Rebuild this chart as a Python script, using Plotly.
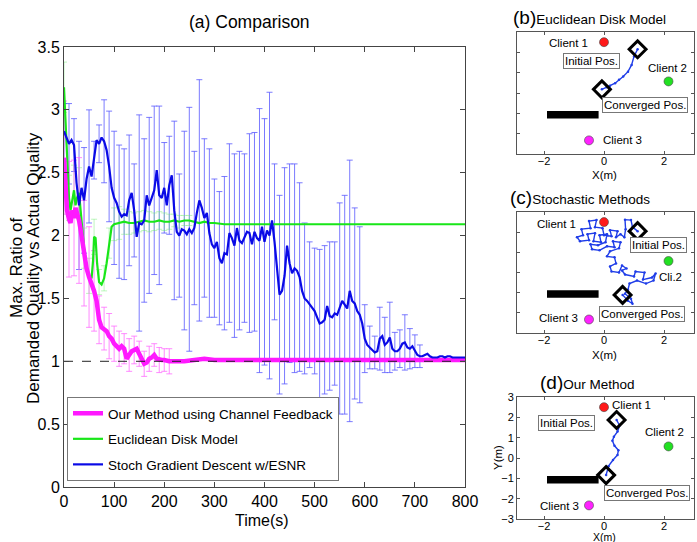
import plotly.graph_objects as go

# ---------------- (a) Comparison : time series ----------------
# Stochastic gradient descent w/ESNR, sampled every 5 s
blue_t = list(range(0, 805, 5))
blue_y = [
    2.83, 2.78, 2.73, 2.76, 2.72, 2.42, 2.24, 2.38, 2.28, 2.45, 2.55, 2.47, 2.60, 2.76, 2.73, 2.78, 2.75, 2.68, 2.55, 2.38,
    2.30, 2.26, 2.19, 2.15, 2.17, 2.16, 2.28, 2.34, 2.20, 1.99, 2.10, 2.09, 2.12, 2.32, 2.24, 2.30, 2.36, 2.52, 2.32, 2.30,
    2.38, 2.24, 2.40, 2.48, 2.20, 2.03, 2.00, 2.05, 2.04, 2.01, 2.05, 2.02, 2.06, 2.18, 2.28, 2.22, 2.14, 2.18, 2.02, 1.93,
    1.90, 1.95, 1.82, 1.78, 1.86, 1.85, 2.02, 1.98, 1.92, 2.06, 1.96, 1.94, 1.98, 2.03, 2.02, 1.93, 2.03, 1.98, 1.96, 2.07,
    1.95, 2.04, 2.00, 2.12, 1.95, 1.75, 1.53, 1.56, 1.68, 1.92, 1.78, 1.70, 1.74, 1.72, 1.67, 1.56, 1.50, 1.48, 1.45, 1.43,
    1.40, 1.35, 1.30, 1.31, 1.33, 1.44, 1.36, 1.35, 1.38, 1.37, 1.42, 1.48, 1.45, 1.42, 1.56, 1.48, 1.46, 1.40, 1.37, 1.30,
    1.18, 1.13, 1.11, 1.09, 1.07, 1.08, 1.18, 1.20, 1.13, 1.15, 1.19, 1.10, 1.08, 1.08, 1.10, 1.14, 1.15, 1.11, 1.10, 1.12,
    1.08, 1.05, 1.04, 1.04, 1.05, 1.06, 1.04, 1.03, 1.03, 1.03, 1.04, 1.04, 1.03, 1.04, 1.04, 1.03, 1.03, 1.03, 1.03, 1.03,
    1.03,
]
# one std-dev half width every 10 s (t = 0 .. 710)
blue_err = [
    0.22, 0.32, 0.21, 0.51, 0.42, 0.45, 0.15, 0.15, 0.33, 0.44,
    0.53, 0.53, 0.52, 0.52, 0.37, 0.86, 0.65, 0.70, 0.67, 0.71,
    0.36, 0.39, 0.71, 0.49, 0.79, 0.97, 0.61, 0.96, 0.63, 0.67,
    0.55, 0.53, 0.61, 0.71, 0.73, 0.71, 0.67, 0.79, 0.79, 1.05,
    0.98, 1.14, 0.62, 0.79, 0.86, 0.79, 0.83, 0.75, 0.60, 0.50,
    0.50, 0.59, 0.59, 0.59, 0.57, 0.84, 0.87, 1.04, 0.76, 0.70,
    0.27, 0.17, 0.13, 0.25, 0.22, 0.28, 0.15, 0.15, 0.22, 0.16,
    0.13, 0.09,
]

# Euclidean disk model
green_t = [0, 3, 6, 10, 13, 16, 20, 23, 26, 30, 33, 36, 40, 45, 50, 55, 58, 60, 63, 66,
           70, 75, 80, 85, 90, 95, 100, 110, 120, 130, 140, 150, 160, 170, 180, 190, 200,
           210, 220, 230, 240, 250, 260, 270, 280, 290, 300, 320, 400, 500, 600, 700, 800]
green_y = [3.18, 2.90, 2.60, 2.30, 2.20, 2.28, 2.36, 2.24, 2.30, 2.34, 2.22, 2.05, 1.90, 1.76, 1.68, 1.66, 1.80, 1.99, 1.98, 1.78,
           1.63, 1.61, 1.66, 1.78, 1.94, 2.07, 2.09, 2.10, 2.11, 2.10, 2.10, 2.11, 2.12, 2.11, 2.11, 2.12, 2.11,
           2.11, 2.12, 2.11, 2.12, 2.12, 2.11, 2.10, 2.11, 2.10, 2.10, 2.09, 2.09, 2.09, 2.09, 2.09, 2.09]
green_err = [0.20, 0.18, 0.20, 0.20, 0.16, 0.14, 0.14, 0.10, 0.10, 0.12, 0.13, 0.13, 0.10,
             0.09, 0.08, 0.08, 0.08, 0.08, 0.07, 0.07, 0.07, 0.06, 0.05, 0.05, 0.04, 0.04]

# Our method using channel feedback
mag_t = [0, 3, 6, 10, 13, 16, 20, 23, 26, 30, 33, 36, 40, 45, 50, 55, 60, 65, 70, 75,
         80, 85, 90, 95, 100, 105, 110, 115, 120, 125, 130, 135, 140, 145, 150, 155, 160,
         165, 170, 175, 180, 185, 190, 195, 200, 205, 210, 220, 240, 260, 280, 300, 400,
         500, 600, 700, 800]
mag_y = [2.62, 2.42, 2.20, 2.13, 2.10, 2.20, 2.14, 2.22, 2.18, 2.12, 2.05, 1.97, 1.86, 1.74, 1.67, 1.62, 1.56, 1.48, 1.33, 1.27,
         1.26, 1.24, 1.20, 1.18, 1.14, 1.12, 1.10, 1.12, 1.10, 1.02, 1.05, 1.08, 1.09, 1.10, 1.06, 1.02, 0.98,
         0.99, 1.02, 1.03, 1.05, 1.02, 1.01, 1.01, 1.01, 1.00, 1.00, 1.00, 1.00, 1.01, 1.02, 1.01, 1.01,
         1.01, 1.01, 1.01, 1.01]
mag_err = [0.45, 0.46, 0.46, 0.50, 0.42, 0.40, 0.32, 0.19, 0.17, 0.18, 0.14,
           0.14, 0.12, 0.13, 0.11, 0.10, 0.10, 0.10, 0.09, 0.10, 0.09, 0.10]

ref_level = 1.0
time_range = [0, 800]

# ---------------- (b)-(d) floor maps ----------------
client_x = [0.0, 2.15, -0.5]
client_y = [2.5, 0.57, -2.33]
client_colors = ["#ff1a1a", "#22e022", "#ff22ff"]
obstacle_x = [-1.9, -0.18]
obstacle_y = [-1.25, -0.88]

# (b) Euclidean disk model trajectory
b_path_x = [1.12, 1.0, 0.92, 0.8, 0.64, 0.5, 0.37, 0.2, 0.09, -0.07]
b_path_y = [2.15, 1.8, 1.38, 1.05, 0.81, 0.65, 0.48, 0.36, 0.28, 0.18]

# (c) stochastic method trajectory
c_path_x = [1.12, 0.95, 0.9, 0.7, 0.72, 0.68, 0.55, 0.4, 0.45, 0.2, 0.25, 0.0, -0.05, -0.3, -0.25,
            -0.5, -0.45, -0.75, -0.7, -0.9, -0.8, -0.5, -0.55, -0.3, -0.35, -0.1, -0.15, 0.1, 0.05,
            -0.2, -0.45, -0.4, -0.15, 0.1, 0.35, 0.3, 0.55, 0.5, 0.2, 0.1, 0.35, 0.4, 0.2, 0.25, 0.5,
            0.6, 0.75, 0.6, 0.7, 1.0, 1.05, 1.35, 1.3, 1.6, 1.72, 1.65, 1.4, 1.1, 0.85, 0.8, 0.7, 0.9,
            0.95, 0.8, 0.62]
c_path_y = [2.05, 2.25, 2.6, 2.62, 2.15, 1.75, 1.9, 1.75, 2.05, 2.1, 1.8, 1.85, 2.2, 2.25, 2.6,
            2.55, 2.2, 2.15, 1.85, 1.75, 1.55, 1.6, 1.9, 1.95, 1.55, 1.5, 1.85, 1.9, 1.5,
            1.35, 1.4, 1.15, 1.1, 1.3, 1.25, 1.55, 1.5, 1.2, 1.05, 0.8, 0.75, 0.45, 0.3, 0.05, 0.0,
            0.35, 0.2, 0.1, -0.1, -0.2, 0.05, 0.0, -0.35, -0.25, -0.05, -0.4, -0.55, -0.4, -0.55, -0.85, -1.05, -1.3,
            -1.55, -1.4, -1.11]

# (d) our method trajectory
d_path_x = [0.42, 0.52, 0.45, 0.33, 0.28, 0.35, 0.48, 0.45, 0.3, 0.15, 0.07]
d_path_y = [1.87, 1.6, 1.3, 1.05, 0.85, 0.6, 0.38, 0.15, -0.1, -0.4, -0.84]

SANS = "Liberation Sans, Arial, sans-serif"
W, H = 697, 542


def px_x(p):
    return p / W


def px_y(p):
    return 1 - p / H


fig = go.Figure()


def bar_points(ts, ys, errs):
    pts = [(t, y) for t, y in zip(ts, ys) if t % 10 == 0][:len(errs)]
    return [p[0] for p in pts], [p[1] for p in pts]


# error bars first so the curves sit on top
for ts, ys, errs, col in [
    (blue_t, blue_y, blue_err, "rgba(90,90,255,0.8)"),
    (green_t, green_y, green_err, "rgba(110,235,110,0.45)"),
    (mag_t, mag_y, mag_err, "rgba(255,110,255,0.8)"),
]:
    bx, by = bar_points(ts, ys, errs)
    fig.add_trace(go.Scatter(
        x=bx, y=by, mode="markers", marker=dict(size=2, color="rgba(0,0,0,0)"),
        error_y=dict(type="data", array=errs, visible=True, color=col, thickness=1, width=3),
        showlegend=False, hoverinfo="skip", xaxis="x", yaxis="y"))

fig.add_trace(go.Scatter(x=green_t, y=green_y, mode="lines", name="Euclidean Disk Model",
                         line=dict(color="#19e619", width=2.2), legendrank=2, legendgroup="g2"))
fig.add_trace(go.Scatter(x=mag_t, y=mag_y, mode="lines", name="Our Method using Channel Feedback",
                         line=dict(color="#ff19ff", width=4.5), legendrank=1, legendgroup="g1"))
fig.add_trace(go.Scatter(x=blue_t, y=blue_y, mode="lines", name="Stoch Gradient Descent w/ESNR",
                         line=dict(color="#0a0ae6", width=2.2), legendrank=3, legendgroup="g3"))
fig.add_trace(go.Scatter(x=time_range, y=[ref_level, ref_level], mode="lines",
                         line=dict(color="#222", width=1, dash="dash"),
                         showlegend=False, hoverinfo="skip"))

# ---------------- floor map panels ----------------
panels = [
    ("2", b_path_x, b_path_y),
    ("3", c_path_x, c_path_y),
    ("4", d_path_x, d_path_y),
]
shapes = []
for ax, pxs, pys in panels:
    xa, ya = "x" + ax, "y" + ax
    fig.add_trace(go.Scatter(x=pxs, y=pys, mode="lines+markers", xaxis=xa, yaxis=ya,
                             line=dict(color="#1f3de8", width=1.4),
                             marker=dict(size=2.5, color="#1f3de8"),
                             showlegend=False, hoverinfo="skip"))
    fig.add_trace(go.Scatter(x=[pxs[0], pxs[-1]], y=[pys[0], pys[-1]], mode="markers",
                             xaxis=xa, yaxis=ya,
                             marker=dict(symbol="diamond-open", size=13, color="black",
                                         line=dict(width=3, color="black")),
                             showlegend=False, hoverinfo="skip"))
    fig.add_trace(go.Scatter(x=client_x, y=client_y, mode="markers", xaxis=xa, yaxis=ya,
                             marker=dict(size=9, color=client_colors,
                                         line=dict(width=0.6, color="#444")),
                             showlegend=False, hoverinfo="skip"))
    shapes.append(dict(type="rect", xref=xa, yref=ya, x0=obstacle_x[0], x1=obstacle_x[1],
                       y0=obstacle_y[0], y1=obstacle_y[1], fillcolor="black",
                       line=dict(width=0)))

annotations = []


def label(ax, x, y, text, boxed=False, xanchor="center"):
    d = dict(xref="x" + ax, yref="y" + ax, x=x, y=y, text=text, showarrow=False,
             xanchor=xanchor, font=dict(family=SANS, size=11.5, color="black"))
    if boxed:
        d.update(bordercolor="#777", borderwidth=1, borderpad=1, bgcolor="white")
    annotations.append(d)


label("2", -1.2, 2.46, "Client 1")
label("2", -0.41, 1.58, "Initial Pos.", boxed=True)
label("2", 2.12, 1.25, "Client 2")
label("2", 1.37, -0.6, "Converged Pos.", boxed=True)
label("2", -0.1, -2.31, "Client 3", xanchor="left")

label("3", -1.6, 2.4, "Client 1")
label("3", 1.81, 1.36, "Initial Pos.", boxed=True)
label("3", 2.2, -0.2, "Cli.2")
label("3", 1.26, -2.05, "Converged Pos.", boxed=True)
label("3", -1.52, -2.27, "Client 3")

label("4", 0.9, 2.62, "Client 1")
label("4", -1.24, 1.74, "Initial Pos.", boxed=True)
label("4", 2.01, 1.3, "Client 2")
label("4", 1.42, -1.74, "Converged Pos.", boxed=True)
label("4", -1.47, -2.35, "Client 3")


# titles and axis labels placed in paper space
def paper_text(x, y, text, size, angle=0, xanchor="center"):
    annotations.append(dict(xref="paper", yref="paper", x=px_x(x), y=px_y(y), text=text,
                            showarrow=False, xanchor=xanchor, yanchor="middle",
                            textangle=angle, font=dict(family=SANS, size=size, color="black")))


paper_text(249, 22, "(a) Comparison", 17.5)
paper_text(262, 520, "Time(s)", 16)
paper_text(16, 268, "Max. Ratio of", 17, angle=-90)
paper_text(33, 268, "Demanded Quality vs Actual Quality", 17, angle=-90)
paper_text(511, 17, "<span style='font-size:19px'>(b)</span>Euclidean Disk Model", 13.5, xanchor="left")
paper_text(508, 198, "<span style='font-size:19px'>(c)</span>Stochastic Methods", 13.5, xanchor="left")
paper_text(538, 382, "<span style='font-size:19px'>(d)</span>Our Method", 13.5, xanchor="left")
paper_text(604, 175, "X(m)", 11.5)
paper_text(604, 355, "X(m)", 11.5)
paper_text(604, 537, "X(m)", 10.5)
paper_text(498, 458, "Y(m)", 11.5, angle=-90)

main_axis = dict(showgrid=False, zeroline=False, showline=True, linecolor="#444", linewidth=1,
                 mirror="ticks", ticks="inside", ticklen=5, tickcolor="#444", automargin=False,
                 tickfont=dict(family=SANS, size=16, color="black"))
panel_axis = dict(showgrid=False, zeroline=False, showline=True, linecolor="#555", linewidth=1,
                  mirror="ticks", ticks="inside", ticklen=3, tickcolor="#555", automargin=False,
                  tickfont=dict(family=SANS, size=11, color="black"))

layout = dict(
    template="none",
    width=W, height=H, autosize=False,
    margin=dict(l=0, r=0, t=0, b=0, pad=0, autoexpand=False),
    paper_bgcolor="white", plot_bgcolor="white",
    showlegend=True,
    legend=dict(x=px_x(67), y=px_y(481), xanchor="left", yanchor="bottom",
                bgcolor="white", bordercolor="#777", borderwidth=1, traceorder="grouped",
                font=dict(family=SANS, size=13.5, color="black"), tracegroupgap=5),
    xaxis=dict(main_axis, domain=[px_x(64), px_x(465)], range=time_range, dtick=100, anchor="y"),
    yaxis=dict(main_axis, domain=[px_y(487), px_y(47)], range=[0, 3.5], dtick=0.5, anchor="x"),
    shapes=shapes, annotations=annotations,
)
panel_rows = {"2": (32, 154), "3": (212, 333), "4": (397, 519)}
for ax, (top, bot) in panel_rows.items():
    layout["xaxis" + ax] = dict(panel_axis, domain=[px_x(517), px_x(694)], range=[-2.9, 3.0],
                                tickvals=[-2, 0, 2], anchor="y" + ax, ticklabelstandoff=-3)
    layout["yaxis" + ax] = dict(panel_axis, domain=[px_y(bot), px_y(top)], range=[-3, 3],
                                dtick=1, anchor="x" + ax, showticklabels=(ax == "4"))

fig.update_layout(**layout)
fig.write_html("out.html")
